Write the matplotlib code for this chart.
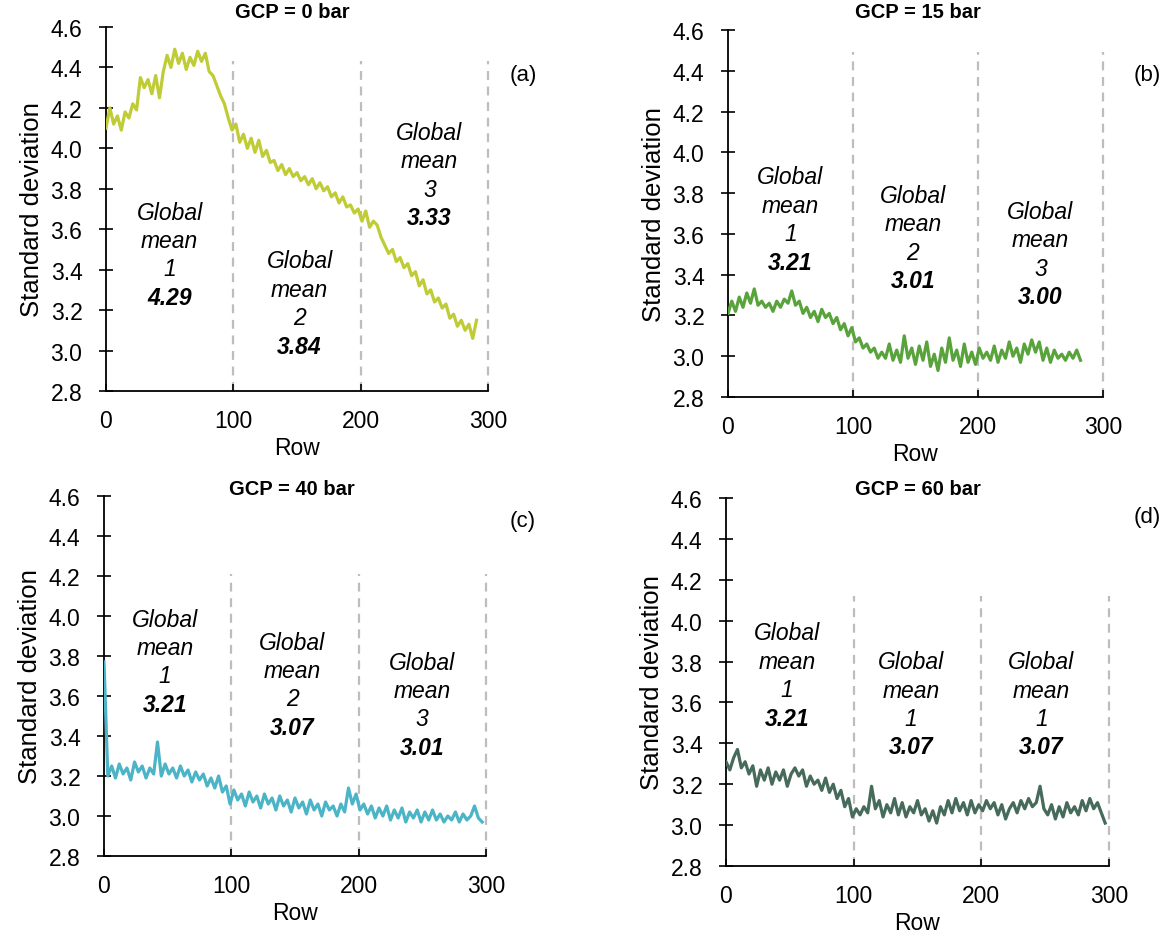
import numpy as np
import matplotlib
matplotlib.use("Agg")
import matplotlib.pyplot as plt

plt.rcParams["font.family"] = ["Liberation Sans", "DejaVu Sans"]
plt.rcParams["font.size"] = 16

# ── Data (std. deviation per row, read every 3 rows) ─────────────────────────
ROW_STEP = 3

std_0bar = [4.10, 4.20, 4.12, 4.16, 4.09, 4.18, 4.15, 4.22, 4.19, 4.35,
            4.30, 4.34, 4.27, 4.36, 4.25, 4.38, 4.46, 4.40, 4.49, 4.42,
            4.47, 4.39, 4.45, 4.41, 4.48, 4.43, 4.47, 4.38, 4.36, 4.31,
            4.26, 4.22, 4.15, 4.09, 4.12, 4.03, 4.07, 4.00, 4.05, 3.98,
            4.04, 3.96, 3.99, 3.93, 3.94, 3.89, 3.92, 3.87, 3.90, 3.86,
            3.88, 3.84, 3.86, 3.82, 3.85, 3.80, 3.83, 3.79, 3.81, 3.76,
            3.78, 3.73, 3.76, 3.71, 3.72, 3.68, 3.70, 3.64, 3.69, 3.61,
            3.64, 3.62, 3.56, 3.52, 3.48, 3.50, 3.44, 3.46, 3.41, 3.43,
            3.37, 3.39, 3.32, 3.35, 3.28, 3.30, 3.24, 3.26, 3.21, 3.23,
            3.16, 3.18, 3.12, 3.15, 3.10, 3.13, 3.06, 3.15]

std_15bar = [3.21, 3.27, 3.22, 3.29, 3.24, 3.31, 3.26, 3.33, 3.25, 3.27,
             3.24, 3.26, 3.22, 3.27, 3.24, 3.28, 3.26, 3.32, 3.25, 3.27,
             3.21, 3.24, 3.19, 3.22, 3.17, 3.23, 3.19, 3.21, 3.16, 3.19,
             3.13, 3.16, 3.10, 3.14, 3.07, 3.09, 3.04, 3.06, 3.02, 3.04,
             2.99, 3.02, 2.99, 3.06, 2.98, 3.03, 2.97, 3.10, 2.99, 3.04,
             2.96, 3.05, 2.98, 3.07, 2.95, 3.01, 2.93, 3.04, 2.97, 3.09,
             2.98, 3.03, 2.95, 3.06, 2.97, 3.02, 2.96, 3.04, 2.99, 3.02,
             2.98, 3.05, 2.97, 3.03, 2.99, 3.07, 3.00, 3.04, 2.97, 3.06,
             3.01, 3.08, 3.02, 3.07, 2.98, 3.04, 2.97, 3.03, 2.99, 3.01,
             2.98, 3.02, 2.99, 3.03, 2.98]

std_40bar = [3.77, 3.20, 3.25, 3.19, 3.26, 3.21, 3.24, 3.18, 3.27, 3.22,
             3.25, 3.19, 3.24, 3.21, 3.37, 3.20, 3.26, 3.21, 3.24, 3.19,
             3.25, 3.20, 3.23, 3.17, 3.22, 3.18, 3.21, 3.15, 3.19, 3.14,
             3.20, 3.12, 3.15, 3.06, 3.13, 3.08, 3.11, 3.05, 3.12, 3.07,
             3.10, 3.04, 3.11, 3.06, 3.09, 3.03, 3.10, 3.05, 3.08, 3.02,
             3.09, 3.04, 3.07, 3.01, 3.08, 3.03, 3.06, 3.00, 3.07, 3.03,
             3.05, 3.00, 3.06, 3.02, 3.14, 3.06, 3.11, 3.03, 3.06, 3.01,
             3.05, 2.99, 3.04, 3.00, 3.05, 2.98, 3.03, 2.99, 3.04, 2.97,
             3.02, 2.99, 3.03, 2.97, 3.02, 2.98, 3.03, 2.98, 3.01, 2.97,
             3.00, 2.98, 3.02, 2.97, 3.01, 2.98, 3.00, 3.05, 2.99, 2.97]

std_60bar = [3.31, 3.27, 3.33, 3.37, 3.28, 3.31, 3.25, 3.29, 3.19, 3.27,
             3.22, 3.28, 3.20, 3.26, 3.22, 3.27, 3.19, 3.25, 3.28, 3.24,
             3.27, 3.19, 3.24, 3.20, 3.22, 3.17, 3.23, 3.16, 3.20, 3.13,
             3.17, 3.09, 3.13, 3.04, 3.08, 3.05, 3.09, 3.06, 3.19, 3.08,
             3.12, 3.04, 3.10, 3.06, 3.13, 3.05, 3.11, 3.04, 3.09, 3.06,
             3.12, 3.05, 3.08, 3.02, 3.07, 3.01, 3.09, 3.05, 3.12, 3.06,
             3.13, 3.07, 3.11, 3.05, 3.12, 3.06, 3.10, 3.07, 3.12, 3.08,
             3.11, 3.05, 3.10, 3.03, 3.08, 3.11, 3.06, 3.12, 3.08, 3.13,
             3.09, 3.11, 3.19, 3.08, 3.05, 3.10, 3.03, 3.09, 3.04, 3.11,
             3.06, 3.09, 3.05, 3.12, 3.07, 3.13, 3.08, 3.11, 3.06, 3.01]

titles      = ["GCP = 0 bar", "GCP = 15 bar", "GCP = 40 bar", "GCP = 60 bar"]
panel_tags  = ["(a)", "(b)", "(c)", "(d)"]
series      = [std_0bar, std_15bar, std_40bar, std_60bar]
colors      = ["#bfcc35", "#58a33c", "#4bb4c7", "#476b5b"]

# Global mean boxes: section number and value per panel
mean_ids    = [["1", "2", "3"], ["1", "2", "3"], ["1", "2", "3"], ["1", "1", "1"]]
mean_values = [["4.29", "3.84", "3.33"], ["3.21", "3.01", "3.00"],
               ["3.21", "3.07", "3.01"], ["3.21", "3.07", "3.07"]]

SECTIONS = [100, 200, 300]

# ── Layout (pixel positions in the 1167x937 image) ───────────────────────────
W, H = 1167, 937
ax_px    = [(106, 488, 28, 392), (728, 1103, 31, 398),
            (104, 486, 497, 857), (726, 1109, 499, 867)]
title_px = [(292, 13), (918, 13), (292, 490), (918, 490)]
tag_px   = [(523, 75), (1147, 75), (523, 521), (1147, 518)]
block_xy = [[(50, 3.685), (152, 3.443), (254, 4.08)],
            [(50, 3.88), (148, 3.79), (250, 3.71)],
            [(48, 3.985), (148, 3.87), (250, 3.77)],
            [(48, 3.94), (145, 3.80), (247, 3.80)]]
dash_top = [4.43, 4.49, 4.21, 4.12]

fig = plt.figure(figsize=(W / 100, H / 100), dpi=100)

for i in range(4):
    x0, x1, yt, yb = ax_px[i]
    ax = fig.add_axes([x0 / W, 1 - yb / H, (x1 - x0) / W, (yb - yt) / H])

    vals = np.array(series[i])
    rows = np.arange(len(vals)) * ROW_STEP

    ax.vlines(SECTIONS, 2.8, dash_top[i], colors="#bdbdbd",
              linestyles=(0, (4, 3)), linewidth=1.6, clip_on=False, zorder=1)
    ax.plot(rows, vals, color=colors[i], linewidth=2.3, zorder=3)

    ax.set_xlim(0, 300)
    ax.set_ylim(2.8, 4.6)
    ax.set_xticks([0, 100, 200, 300])
    ax.set_yticks(np.arange(2.8, 4.61, 0.2))
    ax.yaxis.set_major_formatter(matplotlib.ticker.FormatStrFormatter("%.1f"))
    ax.tick_params(axis="y", direction="inout", length=10, width=1.2, pad=12,
                   labelsize=16.5)
    ax.tick_params(axis="x", direction="in", length=5, width=1.2, pad=13,
                   labelsize=16.5)
    for s in ["top", "right"]:
        ax.spines[s].set_visible(False)
    for s in ["left", "bottom"]:
        ax.spines[s].set_linewidth(1.3)
    ax.set_ylabel("Standard deviation", labelpad=5, fontsize=18.5)
    ax.set_xlabel("Row", labelpad=3, fontsize=16.5)

    for (bx, by), mid, mv in zip(block_xy[i], mean_ids[i], mean_values[i]):
        lines = [("Global", "normal"), ("mean", "normal"), (mid, "normal"), (mv, "bold")]
        for k, (txt, wt) in enumerate(lines):
            ax.annotate(txt, (bx, by), xytext=(0, -k * 20.5), textcoords="offset points",
                        ha="center", va="center", style="italic", fontweight=wt,
                        fontsize=16.5)

    fig.text(title_px[i][0] / W, 1 - title_px[i][1] / H, titles[i],
             ha="center", va="center", fontweight="bold", fontsize=14.5)
    fig.text(tag_px[i][0] / W, 1 - tag_px[i][1] / H, panel_tags[i],
             ha="center", va="center", fontsize=16)

fig.savefig("out.png", dpi=100)
